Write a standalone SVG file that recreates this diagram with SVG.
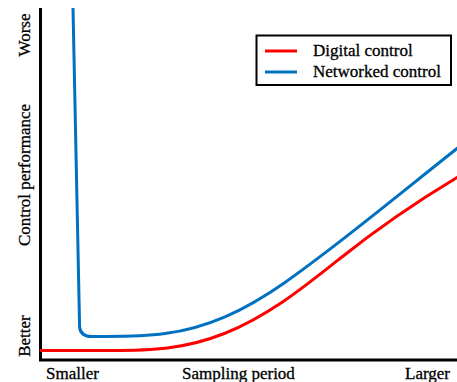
<svg xmlns="http://www.w3.org/2000/svg" width="457" height="382" viewBox="0 0 457 382">
<style>
text{font-family:"Liberation Serif","Times New Roman",Times,serif;font-size:17px;fill:#000;stroke:#000;stroke-width:0.3}
.axis{stroke:#000;stroke-width:3;fill:none}
.curve{fill:none;stroke-width:3;stroke-linejoin:round;stroke-linecap:butt}
.red{stroke:#ff0000}
.blue{stroke:#0070c0}
</style>
<rect width="457" height="382" fill="#fff"/>
<g id="axes">
<path class="axis" d="M40.5,8 V360 H457"/>
</g>
<g id="axis-labels">
<text transform="translate(30,35) rotate(-90)" text-anchor="middle">Worse</text>
<text transform="translate(30,175) rotate(-90)" text-anchor="middle">Control performance</text>
<text transform="translate(30,336) rotate(-90)" text-anchor="middle">Better</text>
<text x="46" y="379">Smaller</text>
<text x="182" y="379">Sampling period</text>
<text x="405" y="379">Larger</text>
</g>
<g id="connectors">
<path id="digital-curve" class="curve red" d="M40,350.5 L110,350.5 C129.2,350.5 148.3,350.4 167.5,348 C186.7,345.6 205.8,340.9 225,333.25 C244.2,325.6 263.3,314.9 282.5,302 C301.7,289.1 320.8,273.8 340,258.5 C379,227.3 418,200.9 457,177.5 L460,175.7"/>
<path id="networked-curve" class="curve blue" d="M73,8 L79.6,327 Q80.5,336.5 92,336.5 L105,336.5 C125,336.5 145,336.4 165,333.6 C185,330.8 205,325.4 225,316.8 C245,308.2 265,296.3 285,282.4 C298.3,273.2 311.7,263 325,252.9 C369,219.5 413,183.3 457,148.5 L460,146"/>
</g>
<g id="legend">
<rect x="256.5" y="35.5" width="194.5" height="49.5" fill="#fff" stroke="#000" stroke-width="2"/>
<line x1="265" y1="51" x2="297" y2="51" class="curve red"/>
<line x1="265" y1="72" x2="297" y2="72" class="curve blue"/>
<text x="313" y="56">Digital control</text>
<text x="313" y="77">Networked control</text>
</g>
</svg>
